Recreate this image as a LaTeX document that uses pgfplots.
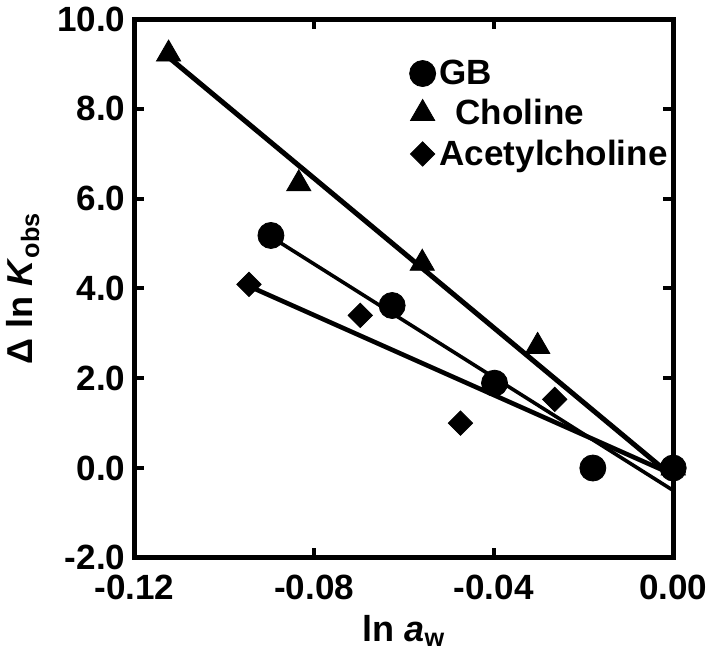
\documentclass[border=0pt]{standalone}
\usepackage{fontspec}
\setmainfont{Liberation Sans}
\usepackage{pgfplots}
\pgfplotsset{compat=1.18}

\begin{document}
\begin{tikzpicture}
\begin{axis}[
    scale only axis,
    width=269pt, height=269pt,
    xmin=-0.12, xmax=0, ymin=-2, ymax=10,
    xtick={-0.12,-0.08,-0.04,0},
    ytick={-2,0,2,4,6,8,10},
    tick align=inside,
    major tick length=5pt,
    every tick/.style={line width=2pt, black},
    axis line style={line width=2.5pt},
    /pgf/number format/assume math mode=true,
    xticklabel style={yshift=-5pt, /pgf/number format/fixed, /pgf/number format/fixed zerofill, /pgf/number format/precision=2},
    yticklabel style={xshift=-1pt, /pgf/number format/fixed, /pgf/number format/fixed zerofill, /pgf/number format/precision=1},
    tick label style={font=\fontsize{17.5}{21}\selectfont\bfseries},
    xlabel={ln \textit{a}\textsubscript{w}},
    ylabel={Δ ln \textit{K}\textsubscript{obs}},
    label style={font=\fontsize{18}{21}\selectfont\bfseries},
    xlabel style={yshift=-1pt},
    ylabel style={yshift=2pt},
    legend style={at={(rel axis cs:0.51,0.94)}, anchor=north west, draw=none, fill=none,
        font=\fontsize{17.5}{21}\selectfont\bfseries, row sep=2pt, inner xsep=0pt},
    legend cell align=left,
    legend image code/.code={\draw[#1] plot coordinates {(0.25cm,0cm)};},
]
% data points
\addplot[only marks, mark=*, mark size=6.5pt, black]
    coordinates {(-0.0896,5.18) (-0.0626,3.62) (-0.0398,1.89) (-0.0179,0.00) (0,0)};
\addplot[only marks, mark=triangle*, mark size=7pt, black]
    coordinates {(-0.1124,9.22) (-0.0834,6.33) (-0.0559,4.56) (-0.0302,2.71) (0,0)};
\addplot[only marks, mark=square*, mark options={rotate=45}, mark size=4.3pt, black]
    coordinates {(-0.0945,4.09) (-0.0697,3.40) (-0.0474,1.00) (-0.0264,1.53) (0,0)};
\legend{GB, \hspace{8pt}Choline, Acetylcholine}
% fitted lines
\addplot[black, line width=1.8pt, forget plot] coordinates {(-0.0896,5.15) (0,-0.5)};
\addplot[black, line width=2.5pt, forget plot] coordinates {(-0.1124,9.15) (0,-0.2)};
\addplot[black, line width=2.3pt, forget plot] coordinates {(-0.0945,4.05) (0,-0.15)};
\end{axis}
\end{tikzpicture}
\end{document}
